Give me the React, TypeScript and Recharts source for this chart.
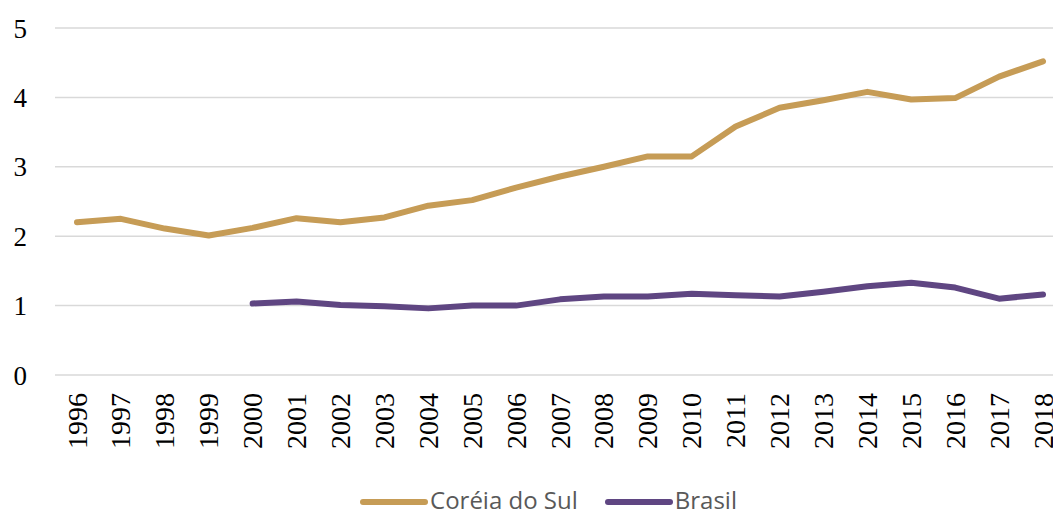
import React from "react";
import { LineChart, Line, XAxis, YAxis, CartesianGrid, Legend } from "recharts";

const years = ["1996","1997","1998","1999","2000","2001","2002","2003","2004","2005","2006","2007","2008","2009","2010","2011","2012","2013","2014","2015","2016","2017","2018"];
const coreia = [2.2,2.25,2.11,2.01,2.12,2.26,2.2,2.27,2.44,2.52,2.7,2.86,3.0,3.15,3.15,3.58,3.85,3.96,4.08,3.97,3.99,4.3,4.52];
const brasil: (number | null)[] = [null,null,null,null,1.03,1.06,1.01,0.99,0.96,1.0,1.0,1.09,1.13,1.13,1.17,1.15,1.13,1.2,1.28,1.33,1.26,1.1,1.16];
const yTicks = [0,1,2,3,4,5];

const seriesNames = ["Coréia do Sul", "Brasil"];
const colors = ["#C69C56", "#5F4682"];

const data = years.map((y, i) => ({ year: y, coreia: coreia[i], brasil: brasil[i] }));

const serif = "'Liberation Serif', 'Times New Roman', serif";

const XTick = (props: any) => {
  const { x, y, payload } = props;
  return (
    <g transform={`translate(${x},${y})`}>
      <text
        transform="rotate(-90)"
        x={-18}
        y={0}
        dy="0.34em"
        textAnchor="end"
        fill="#000"
        fontSize={28}
        fontFamily={serif}
      >
        {payload.value}
      </text>
    </g>
  );
};

const LegendContent = () => (
  <div style={{ display: "flex", justifyContent: "center", alignItems: "center", height: 30, paddingLeft: 44 }}>
    {seriesNames.map((n, i) => (
      <div key={n} style={{ display: "flex", alignItems: "center", marginRight: i === 0 ? 27 : 0 }}>
        <svg width={68} height={10} style={{ display: "block", position: "relative", top: 2 }}>
          <line x1={3} y1={5} x2={65} y2={5} stroke={colors[i]} strokeWidth={6} strokeLinecap="round" />
        </svg>
        <span style={{ fontFamily: "'Open Sans', sans-serif", fontSize: 24, color: "#595959", lineHeight: "30px", marginLeft: 2, whiteSpace: "nowrap" }}>{n}</span>
      </div>
    ))}
  </div>
);

export default function App() {
  return (
    <div style={{ position: "absolute", left: 0, top: 0, width: 1053, height: 510, background: "#fff", overflow: "hidden" }}>
      <LineChart width={1053} height={510} data={data} margin={{ top: 28, right: 0, bottom: 0, left: 0 }}>
        <CartesianGrid vertical={false} stroke="#D9D9D9" strokeWidth={1.5} />
        <XAxis
          dataKey="year"
          interval={0}
          height={135}
          axisLine={false}
          tickLine={false}
          tickSize={0}
          tickMargin={0}
          padding={{ left: 22, right: 10 }}
          tick={<XTick />}
        />
        <YAxis
          domain={[0, 5]}
          ticks={yTicks}
          width={55}
          axisLine={false}
          tickLine={false}
          tickSize={0}
          tickMargin={28}
          tick={{ fill: "#000", fontSize: 27, fontFamily: serif }}
        />
        <Legend
          layout="horizontal"
          verticalAlign="middle"
          align="center"
          content={<LegendContent />}
          wrapperStyle={{ position: "absolute", top: 485, left: 0, width: 1053, height: 30 }}
        />
        <Line type="linear" dataKey="coreia" name={seriesNames[0]} stroke={colors[0]} strokeWidth={6} dot={false} strokeLinejoin="round" strokeLinecap="round" isAnimationActive={false} />
        <Line type="linear" dataKey="brasil" name={seriesNames[1]} stroke={colors[1]} strokeWidth={6} dot={false} strokeLinejoin="round" strokeLinecap="round" isAnimationActive={false} />
      </LineChart>
    </div>
  );
}
